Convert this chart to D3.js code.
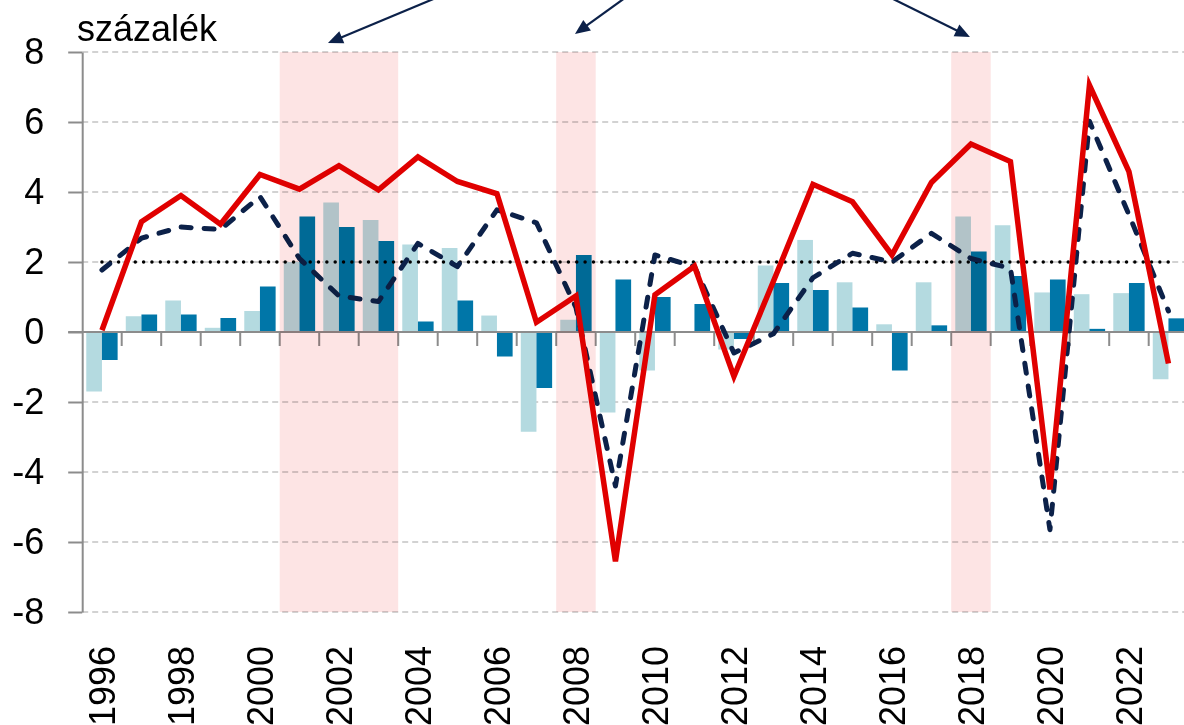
<!DOCTYPE html>
<html>
<head>
<meta charset="utf-8">
<script src="https://cdn.jsdelivr.net/npm/d3@7/dist/d3.min.js"></script>
<style>
  body { margin: 0; background: #fff; }
  svg { display: block; font-family: "Liberation Sans", Arial, sans-serif; }
</style>
</head>
<body>
<div id="chart"></div>
<script>
// Adatok
const years = ["1996","1997","1998","1999","2000","2001","2002","2003","2004","2005",
  "2006","2007","2008","2009","2010","2011","2012","2013","2014","2015",
  "2016","2017","2018","2019","2020","2021","2022","2023"];

const lightBars = [-1.7, 0.45, 0.9, 0.12, 0.6, 2.0, 3.7, 3.2, 2.5, 2.4,
  0.47, -2.85, 0.35, -2.3, -1.1, 0, -0.5, 1.9, 2.63, 1.42,
  0.22, 1.42, 3.3, 3.05, 1.13, 1.08, 1.11, -1.35];

const darkBars = [-0.8, 0.5, 0.5, 0.4, 1.3, 3.3, 3.0, 2.6, 0.3, 0.9,
  -0.7, -1.6, 2.2, 1.5, 1.0, 0.8, -0.2, 1.4, 1.2, 0.7,
  -1.1, 0.19, 2.3, 1.6, 1.5, 0.09, 1.4, 0.39];

const redLine = [0.05, 3.15, 3.9, 3.08, 4.5, 4.08, 4.75, 4.06, 5.0, 4.3,
  3.95, 0.28, 1.03, -6.55, 1.06, 1.88, -1.27, 1.45, 4.22, 3.72,
  2.2, 4.27, 5.37, 4.87, -4.5, 7.05, 4.58, -0.9];

const navyLine = [1.77, 2.68, 3.0, 2.93, 3.87, 2.1, 1.03, 0.87, 2.53, 1.87,
  3.49, 3.12, 0.7, -4.4, 2.2, 1.87, -0.6, -0.05, 1.55, 2.25,
  2.0, 2.82, 2.1, 1.82, -5.65, 6.02, 3.35, 0.6];

const target = 2;
const yTicks = [-8, -6, -4, -2, 0, 2, 4, 6, 8];
const xLabels = ["1996","1998","2000","2002","2004","2006","2008","2010","2012",
  "2014","2016","2018","2020","2022"];

// kiemelt időszakok
const bands = [["2001", "2003"], ["2008", "2008"], ["2018", "2018"]];

// nyilak: hegy eltolása a sáv közepéhez képest, kezdőpont a hegyhez képest
const arrows = [
  { band: 0, tipDx: -11, tipDy: -9, dx: 115, dy: -48 },
  { band: 1, tipDx: -1, tipDy: -18, dx: 61, dy: -44 },
  { band: 2, tipDx: -1, tipDy: -15, dx: -95, dy: -47 }
];

const W = 1184, H = 725;
const plotLeft = 82.2, plotRight = 1188.2, plotTop = 52, plotBottom = 612;

const svg = d3.select("#chart").append("svg")
  .attr("width", W)
  .attr("height", H)
  .style("overflow", "hidden");

const x = d3.scaleBand().domain(years).range([plotLeft, plotRight]);
const xs = d3.scaleBand().domain(["light", "dark"]).range([0, x.bandwidth()]).paddingOuter(0.26);
const y = d3.scaleLinear().domain([-8, 8]).range([plotBottom, plotTop]);
const cx = d => x(d) + x.bandwidth() / 2;

// rácsvonalak
svg.append("g")
  .selectAll("line")
  .data(yTicks.filter(d => d !== 0))
  .enter().append("line")
  .attr("x1", plotLeft).attr("x2", W)
  .attr("y1", d => y(d)).attr("y2", d => y(d))
  .attr("stroke", "#c3c3c3")
  .attr("stroke-width", 1.5)
  .attr("stroke-dasharray", "6,4");

// oszlopok
const rows = years.map((yr, i) => ({ year: yr, light: lightBars[i], dark: darkBars[i] }));
const barColor = { light: "#b4dae0", dark: "#0076a8" };

const grp = svg.append("g").selectAll("g")
  .data(rows)
  .enter().append("g")
  .attr("transform", d => "translate(" + x(d.year) + ",0)");

grp.selectAll("rect")
  .data(d => ["light", "dark"].map(k => ({ key: k, v: d[k] })))
  .enter().append("rect")
  .attr("x", d => xs(d.key))
  .attr("width", xs.bandwidth())
  .attr("y", d => y(Math.max(0, d.v)))
  .attr("height", d => Math.abs(y(d.v) - y(0)))
  .attr("fill", d => barColor[d.key]);

// y tengely
const yAxis = svg.append("g")
  .attr("transform", "translate(" + plotLeft + ",0)")
  .call(d3.axisLeft(y).tickValues(yTicks).tickSize(14).tickSizeOuter(0).tickPadding(24)
    .tickFormat(d => String(d)));
yAxis.select(".domain").attr("stroke", "#8c8c8c").attr("stroke-width", 2);
yAxis.selectAll(".tick line").attr("stroke", "#8c8c8c").attr("stroke-width", 2);
yAxis.selectAll(".tick text")
  .attr("font-size", 36)
  .attr("fill", "#000")
  .attr("font-family", "Liberation Sans, Arial, sans-serif");

// nulla vonal és kategória jelölők
svg.append("line")
  .attr("x1", plotLeft - 14).attr("x2", W)
  .attr("y1", y(0)).attr("y2", y(0))
  .attr("stroke", "#8c8c8c").attr("stroke-width", 2);

svg.append("g").selectAll("line")
  .data(years.slice(1))
  .enter().append("line")
  .attr("x1", d => x(d)).attr("x2", d => x(d))
  .attr("y1", y(0)).attr("y2", y(0) + 14)
  .attr("stroke", "#8c8c8c").attr("stroke-width", 2);

// x feliratok
svg.append("g").selectAll("text")
  .data(xLabels)
  .enter().append("text")
  .attr("transform", d => "translate(" + cx(d) + ",646) rotate(-90)")
  .attr("dy", "0.36em")
  .attr("text-anchor", "end")
  .attr("font-size", 36)
  .attr("fill", "#000")
  .text(d => d);

// célérték (pontozott)
svg.append("line")
  .attr("x1", cx(years[0])).attr("x2", cx(years[years.length - 1]))
  .attr("y1", y(target)).attr("y2", y(target))
  .attr("stroke", "#000")
  .attr("stroke-width", 3.5)
  .attr("stroke-linecap", "round")
  .attr("stroke-dasharray", "0,8.33");

const line = d3.line()
  .x((d, i) => cx(years[i]))
  .y(d => y(d));

svg.append("path")
  .attr("d", line(navyLine))
  .attr("fill", "none")
  .attr("stroke", "#0c2149")
  .attr("stroke-width", 5)
  .attr("stroke-linecap", "round")
  .attr("stroke-linejoin", "round")
  .attr("stroke-dasharray", "10,13");

svg.append("path")
  .attr("d", line(redLine))
  .attr("fill", "none")
  .attr("stroke", "#e00000")
  .attr("stroke-width", 5.5)
  .attr("stroke-linejoin", "miter")
  .attr("stroke-miterlimit", 4);

// rózsaszín sávok (szorzó keverés)
svg.append("g").selectAll("rect")
  .data(bands)
  .enter().append("rect")
  .attr("x", d => x(d[0]))
  .attr("width", d => x(d[1]) + x.bandwidth() - x(d[0]))
  .attr("y", plotTop)
  .attr("height", plotBottom - plotTop)
  .attr("fill", "#fde4e4")
  .style("mix-blend-mode", "multiply");

// cím
svg.append("text")
  .attr("x", 77).attr("y", 41)
  .attr("font-size", 36)
  .attr("fill", "#000")
  .text("százalék");

// nyilak
const ag = svg.append("g");
arrows.forEach(a => {
  const b = bands[a.band];
  const tx = (x(b[0]) + x(b[1]) + x.bandwidth()) / 2 + a.tipDx;
  const ty = plotTop + a.tipDy;
  const sx = tx + a.dx, sy = ty + a.dy;
  const len = Math.hypot(a.dx, a.dy);
  const ux = -a.dx / len, uy = -a.dy / len; // irány a hegy felé
  const headL = 15, headW = 6.5;
  const bx = tx - ux * headL, by = ty - uy * headL;
  ag.append("line")
    .attr("x1", sx).attr("y1", sy)
    .attr("x2", bx + ux * 2).attr("y2", by + uy * 2)
    .attr("stroke", "#0c2149").attr("stroke-width", 2.2);
  ag.append("path")
    .attr("d", "M" + tx + "," + ty +
      "L" + (bx - uy * headW) + "," + (by + ux * headW) +
      "L" + (bx + uy * headW) + "," + (by - ux * headW) + "Z")
    .attr("fill", "#0c2149");
});
</script>
</body>
</html>
